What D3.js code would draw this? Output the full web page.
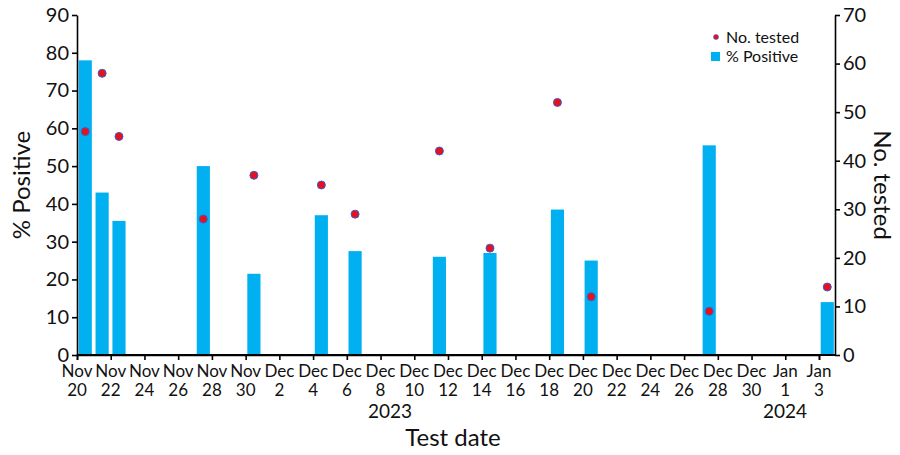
<!DOCTYPE html><html><head><meta charset="utf-8">
<script src="https://cdn.jsdelivr.net/npm/d3@7"></script>
<style>body{margin:0;background:#fff}text{font-family:Lato,"Open Sans",sans-serif;fill:#111}</style></head><body>
<svg id="c" width="900" height="455"></svg>
<script>
const dates=["2023-11-20","2023-11-21","2023-11-22","2023-11-27","2023-11-30","2023-12-04","2023-12-06","2023-12-11","2023-12-14","2023-12-18","2023-12-20","2023-12-27","2024-01-03"];
const pctPositive=[78,43,35.5,50,21.5,37,27.5,26,27,38.5,25,55.5,14];
const noTested=[46,58,45,28,37,35,29,42,22,52,12,9,14];
const leftTicks=[0,10,20,30,40,50,60,70,80,90];
const rightTicks=[0,10,20,30,40,50,60,70];
const tickDates=["2023-11-20","2023-11-22","2023-11-24","2023-11-26","2023-11-28","2023-11-30","2023-12-02","2023-12-04","2023-12-06","2023-12-08","2023-12-10","2023-12-12","2023-12-14","2023-12-16","2023-12-18","2023-12-20","2023-12-22","2023-12-24","2023-12-26","2023-12-28","2023-12-30","2024-01-01","2024-01-03"];
const pd=d3.utcParse("%Y-%m-%d");
const svg=d3.select("#c");
const L=77,R=835,T=15,B=355;
const x=d3.scaleUtc().domain([pd("2023-11-20"),pd("2024-01-03")]).range([77,819]);
const yL=d3.scaleLinear().domain([0,90]).range([B,T]);
const yR=d3.scaleLinear().domain([0,70]).range([B,T]);
const day=x(pd("2023-11-21"))-x(pd("2023-11-20"));
svg.selectAll(".bar").data(dates).join("rect").attr("fill","#00b0f0")
 .attr("x",d=>x(pd(d))+day*0.1).attr("width",day*0.78)
 .attr("y",(d,i)=>yL(pctPositive[i])).attr("height",(d,i)=>B-yL(pctPositive[i]));
svg.selectAll(".dot").data(dates).join("circle").attr("fill","#e8101a").attr("stroke","#3a5fcd").attr("stroke-width",1)
 .attr("cx",d=>x(pd(d))+day*0.49).attr("cy",(d,i)=>yR(noTested[i])).attr("r",4);
const ga=svg.append("g").attr("transform",`translate(${L},0)`).call(d3.axisLeft(yL).tickValues(leftTicks).tickSize(5).tickSizeOuter(0));
ga.selectAll("text").style("font-size","20px");
const gr=svg.append("g").attr("transform",`translate(${R},0)`).call(d3.axisRight(yR).tickValues(rightTicks).tickSize(5).tickSizeOuter(0));
gr.selectAll("text").style("font-size","20px");
const gb=svg.append("g").attr("transform",`translate(0,${B})`).call(d3.axisBottom(x).tickValues(tickDates.map(pd)).tickSize(5).tickFormat(()=>""));
svg.append("line").attr("x1",L).attr("x2",R).attr("y1",B).attr("y2",B).attr("stroke","#000").attr("stroke-width",2);
svg.selectAll("path.domain,.tick line").attr("stroke","#000").attr("stroke-width",1.6);
const fm=d3.utcFormat("%b"),fd=d3.utcFormat("%-d");
const lab=svg.append("g").selectAll("text").data(tickDates).join("text").attr("text-anchor","middle").style("font-size","17px");
lab.append("tspan").attr("x",d=>x(pd(d))).attr("y",377).text(d=>fm(pd(d)));
lab.append("tspan").attr("x",d=>x(pd(d))).attr("y",396).text(d=>fd(pd(d)));
svg.append("text").attr("x",390).attr("y",418).attr("text-anchor","middle").style("font-size","19px").text("2023");
svg.append("text").attr("x",785).attr("y",418).attr("text-anchor","middle").style("font-size","19px").text("2024");
svg.append("text").attr("x",453).attr("y",446).attr("text-anchor","middle").style("font-size","24px").text("Test date");
svg.append("text").attr("transform","translate(30,185) rotate(-90)").attr("text-anchor","middle").style("font-size","24px").text("% Positive");
svg.append("text").attr("transform","translate(874,185) rotate(90)").attr("text-anchor","middle").style("font-size","24px").text("No. tested");
svg.append("circle").attr("cx",716).attr("cy",37).attr("r",2.5).attr("fill","#e8101a").attr("stroke","#3a5fcd").attr("stroke-width",0.6);
svg.append("rect").attr("x",711).attr("y",52).attr("width",9).attr("height",9).attr("fill","#00b0f0");
svg.append("text").attr("x",726).attr("y",43).style("font-size","16px").text("No. tested");
svg.append("text").attr("x",726).attr("y",62).style("font-size","16px").text("% Positive");
</script></body></html>
